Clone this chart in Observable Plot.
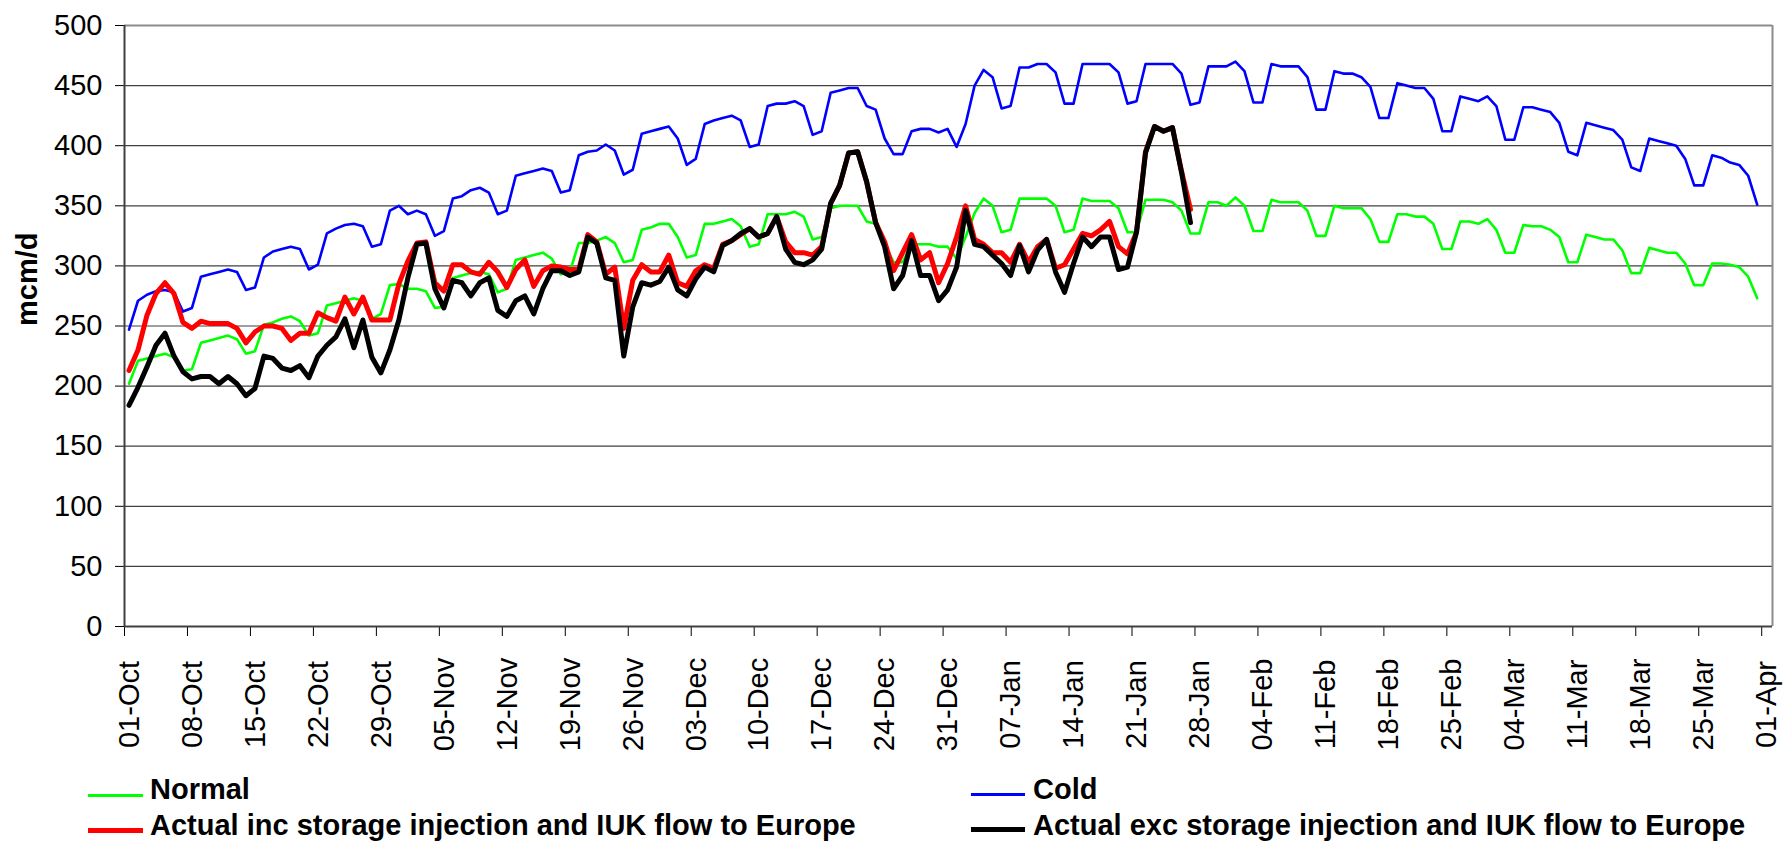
<!DOCTYPE html>
<html><head><meta charset="utf-8">
<script src="https://cdn.jsdelivr.net/npm/d3@7"></script>
<script src="https://cdn.jsdelivr.net/npm/@observablehq/plot@0.6"></script>
<style>
html,body{margin:0;padding:0;background:#fff;}
body{width:1786px;height:841px;position:relative;overflow:hidden;font-family:"Liberation Sans",Arial,sans-serif;}
#chart{position:absolute;left:0;top:0;}
.lg{position:absolute;font-weight:bold;font-size:29px;line-height:29px;white-space:nowrap;color:#000;}
.sw{position:absolute;}
</style></head><body>
<div id="chart"></div>
<div class="sw" style="left:88px;top:794px;width:55px;height:3px;background:#00ff00"></div>
<div class="lg" style="left:150px;top:775px">Normal</div>
<div class="sw" style="left:971px;top:793px;width:54px;height:3px;background:#0000ff"></div>
<div class="lg" style="left:1033px;top:775px">Cold</div>
<div class="sw" style="left:88px;top:828px;width:55px;height:5px;background:#ff0000"></div>
<div class="lg" style="left:150px;top:811px">Actual inc storage injection and IUK flow to Europe</div>
<div class="sw" style="left:971px;top:827px;width:54px;height:5px;background:#000000"></div>
<div class="lg" style="left:1033px;top:811px">Actual exc storage injection and IUK flow to Europe</div>
<script>
const tickLabels = ["01-Oct","08-Oct","15-Oct","22-Oct","29-Oct","05-Nov","12-Nov","19-Nov","26-Nov","03-Dec","10-Dec","17-Dec","24-Dec","31-Dec","07-Jan","14-Jan","21-Jan","28-Jan","04-Feb","11-Feb","18-Feb","25-Feb","04-Mar","11-Mar","18-Mar","25-Mar","01-Apr"];
const yTicks = [0,50,100,150,200,250,300,350,400,450,500];

const cold = [247,271,276,279,280,278,262,
265,291,293,295,297,295,280,
282,307,312,314,316,314,297,
301,327,331,334,335,333,316,
318,346,350,343,346,343,325,
329,356,358,363,365,361,343,
346,375,377,379,381,379,361,
363,392,395,396,401,396,376,
380,410,412,414,416,406,384,
389,418,421,423,425,421,399,
401,433,435,435,437,433,409,
412,444,446,448,448,433,430,
406,393,393,412,414,414,411,
414,399,418,450,463,457,431,
433,465,465,468,468,461,435,
435,468,468,468,468,461,435,
437,468,468,468,468,460,434,
436,466,466,466,470,462,436,
436,468,466,466,466,457,430,
430,462,460,460,457,449,423,
423,452,450,448,448,439,412,
412,441,439,437,441,433,405,
405,432,432,430,428,419,395,
392,419,417,415,413,405,382,
379,406,404,402,400,389,367,
367,392,390,386,384,375,351];

const normal = [202,221,223,225,227,224,213,
214,236,238,240,242,239,227,
229,251,253,256,258,254,242,
244,267,269,271,273,271,256,
260,284,285,281,281,279,265,
266,290,292,294,295,293,278,
281,305,307,309,311,306,293,
295,319,319,321,324,319,303,
305,330,332,335,335,324,307,
309,335,335,337,339,333,316,
318,343,343,343,345,341,322,
324,348,350,350,350,337,335,
318,303,303,318,318,318,316,
316,306,324,344,356,350,328,
330,356,356,356,356,350,328,
330,356,354,354,354,348,328,
328,355,355,355,353,346,327,
327,353,353,350,357,350,329,
329,355,353,353,353,346,325,
325,350,348,348,348,339,320,
320,343,343,341,341,335,314,
314,337,337,335,339,330,311,
311,334,333,333,330,324,303,
303,326,324,322,322,313,294,
294,315,313,311,311,302,284,
284,302,302,301,299,291,273];

const actualInc = [213,230,259,277,286,277,253,
248,254,252,252,252,248,236,
245,250,250,248,238,244,244,
261,257,254,274,260,274,255,
255,255,285,304,319,320,286,
279,301,301,295,293,303,295,
282,297,305,283,296,300,299,
297,297,326,320,293,299,248,
288,301,295,295,309,286,283,
296,301,298,318,321,326,331,
324,327,341,320,311,311,309,
316,352,367,394,395,370,336,
320,296,311,326,305,311,286,
302,324,350,322,318,311,311,
303,318,303,316,322,298,301,
314,327,325,330,337,316,310,
328,395,416,412,415,379,347];

const actualExc = [184,199,216,234,244,225,212,
206,208,208,202,208,202,192,
198,225,223,215,213,217,207,
225,234,241,256,232,255,224,
211,230,255,290,318,319,281,
265,288,286,275,286,290,263,
258,271,275,260,281,296,296,
292,295,324,319,290,288,225,
266,286,284,287,299,280,275,
289,299,295,317,321,327,331,
324,327,341,314,303,301,305,
314,352,367,394,395,370,336,
316,281,292,321,292,292,271,
280,299,346,318,316,309,302,
292,317,295,313,322,295,278,
302,324,316,324,324,297,299,
328,394,416,412,415,378,336];

// day index (0 = 01-Oct); points sit in the middle of each day slot
const rows = arr => arr.map((v, i) => ({day: i + 0.5, value: v}));
const tickDays = tickLabels.map((_, i) => i * 7);
const xMax = 183.2;

const chart = Plot.plot({
  width: 1786,
  height: 765,
  marginLeft: 124,
  marginRight: 14,
  marginTop: 25,
  marginBottom: 139,
  x: {domain: [0, xMax]},
  y: {domain: [0, 500]},
  style: {fontFamily: '"Liberation Sans", Arial, sans-serif', fontSize: "29px", color: "#000", background: "#fff", overflow: "visible"},
  marks: [
    Plot.ruleY(yTicks.filter(v => v > 0 && v < 500), {stroke: "#404040", strokeWidth: 1.2}),
    Plot.ruleY([500], {stroke: "#8c8c8c", strokeWidth: 2}),
    Plot.ruleX([xMax], {stroke: "#8c8c8c", strokeWidth: 2}),
    Plot.axisY({ticks: yTicks, tickSize: 9, tickPadding: 13, fontSize: 29, label: null}),
    Plot.axisX({ticks: tickDays, tickSize: 10, tickFormat: () => "", label: null}),
    Plot.text(tickDays, {x: d => d, y: 0, text: (d, i) => tickLabels[i], rotate: -90, textAnchor: "middle", lineAnchor: "middle", dy: 78, dx: 5, fontSize: 29}),
    Plot.ruleX([0], {stroke: "#404040", strokeWidth: 2}),
    Plot.ruleY([0], {stroke: "#404040", strokeWidth: 2}),
    Plot.line(rows(normal), {x: "day", y: "value", stroke: "#00ff00", strokeWidth: 2.6}),
    Plot.line(rows(cold), {x: "day", y: "value", stroke: "#0000ff", strokeWidth: 2.6}),
    Plot.line(rows(actualInc), {x: "day", y: "value", stroke: "#ff0000", strokeWidth: 5}),
    Plot.line(rows(actualExc), {x: "day", y: "value", stroke: "#000000", strokeWidth: 5}),
    Plot.text(["mcm/d"], {frameAnchor: "left", dx: -97, rotate: -90, fontWeight: "bold", fontSize: 29})
  ]
});
document.getElementById("chart").appendChild(chart);
</script>
</body></html>
